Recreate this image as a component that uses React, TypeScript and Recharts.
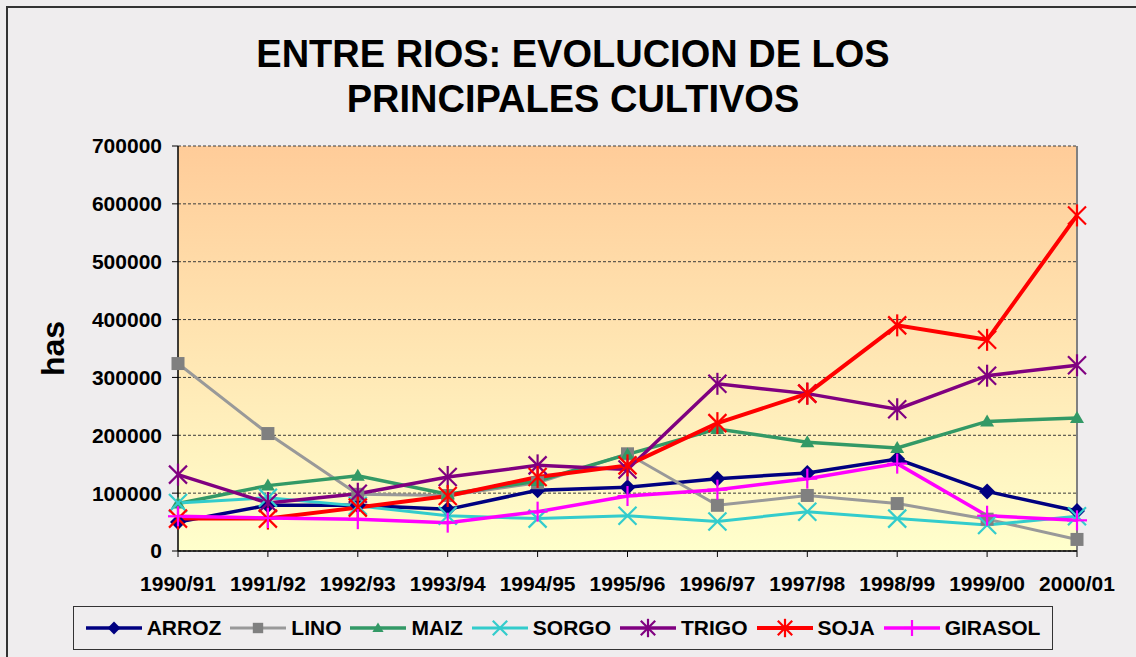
import React from "react"
import { CartesianGrid, Legend, Line, LineChart, ReferenceLine, XAxis, YAxis } from "recharts"

const FONT = "'Liberation Sans', Arial, sans-serif"

const years = ["1990/91", "1991/92", "1992/93", "1993/94", "1994/95", "1995/96", "1996/97", "1997/98", "1998/99", "1999/00", "2000/01"]

const arroz = [50000, 79000, 79000, 72000, 105000, 110000, 125000, 135000, 159000, 103000, 69000]
const lino = [324000, 203000, 98000, 96000, 118000, 168000, 79000, 96000, 82000, 55000, 20000]
const maiz = [82000, 113000, 130000, 98000, 121000, 167000, 211000, 188000, 178000, 224000, 230000]
const sorgo = [83000, 92000, 78000, 61000, 56000, 61000, 51000, 68000, 56000, 45000, 60000]
const trigo = [132000, 83000, 99000, 128000, 148000, 141000, 289000, 272000, 245000, 303000, 321000]
const soja = [56000, 56000, 75000, 95000, 128000, 148000, 221000, 272000, 390000, 365000, 580000]
const girasol = [60000, 57000, 55000, 49000, 68000, 95000, 106000, 125000, 151000, 61000, 53000]

const yTicks = [0, 100000, 200000, 300000, 400000, 500000, 600000, 700000]

type MarkerKind = "diamond" | "square" | "triangle" | "x" | "star" | "plus"

const series = [
  { name: "ARROZ", values: arroz, color: "#000080", markerColor: "#000080", marker: "diamond" as MarkerKind, width: 3.5 },
  { name: "LINO", values: lino, color: "#999999", markerColor: "#808080", marker: "square" as MarkerKind, width: 3 },
  { name: "MAIZ", values: maiz, color: "#339966", markerColor: "#339966", marker: "triangle" as MarkerKind, width: 3.5 },
  { name: "SORGO", values: sorgo, color: "#33CCCC", markerColor: "#33CCCC", marker: "x" as MarkerKind, width: 3 },
  { name: "TRIGO", values: trigo, color: "#800080", markerColor: "#800080", marker: "star" as MarkerKind, width: 3.5 },
  { name: "SOJA", values: soja, color: "#FF0000", markerColor: "#FF0000", marker: "star" as MarkerKind, width: 4 },
  { name: "GIRASOL", values: girasol, color: "#FF00FF", markerColor: "#FF00FF", marker: "plus" as MarkerKind, width: 3.5 },
]

const rows = years.map((year, i) => {
  const row: Record<string, string | number> = { year }
  series.forEach((s) => {
    row[s.name] = s.values[i]
  })
  return row
})

function Marker({ kind, cx, cy, color, s = 1 }: { kind: MarkerKind; cx: number; cy: number; color: string; s?: number }) {
  if (cx == null || cy == null) return null
  switch (kind) {
    case "diamond": {
      const r = 8 * s
      return <polygon points={`${cx},${cy - r} ${cx + r},${cy} ${cx},${cy + r} ${cx - r},${cy}`} fill={color} />
    }
    case "square": {
      const h = 6.5 * s
      return <rect x={cx - h} y={cy - h} width={h * 2} height={h * 2} fill={color} />
    }
    case "triangle": {
      const w = 7 * s
      return <polygon points={`${cx},${cy - 7 * s} ${cx + w},${cy + 5 * s} ${cx - w},${cy + 5 * s}`} fill={color} />
    }
    case "x": {
      const r = 9 * s
      return (
        <g stroke={color} strokeWidth={2.2}>
          <line x1={cx - r} y1={cy - r} x2={cx + r} y2={cy + r} />
          <line x1={cx - r} y1={cy + r} x2={cx + r} y2={cy - r} />
        </g>
      )
    }
    case "star": {
      const r = 9 * s
      return (
        <g stroke={color} strokeWidth={2.2}>
          <line x1={cx - r} y1={cy - r} x2={cx + r} y2={cy + r} />
          <line x1={cx - r} y1={cy + r} x2={cx + r} y2={cy - r} />
          <line x1={cx} y1={cy - r - 2} x2={cx} y2={cy + r + 2} />
        </g>
      )
    }
    default: {
      const r = 10 * s
      return (
        <g stroke={color} strokeWidth={2.2}>
          <line x1={cx - r} y1={cy} x2={cx + r} y2={cy} />
          <line x1={cx} y1={cy - r} x2={cx} y2={cy + r} />
        </g>
      )
    }
  }
}

function LegendBox() {
  return (
    <div
      style={{
        boxSizing: "border-box",
        height: 44,
        border: "1.5px solid #333",
        display: "flex",
        alignItems: "center",
        justifyContent: "center",
        gap: 9,
        fontFamily: FONT,
        fontWeight: 700,
        fontSize: 21,
        color: "#000",
      }}
    >
      {series.map((s) => (
        <div key={s.name} style={{ display: "flex", alignItems: "center" }}>
          <svg width={56} height={24} style={{ display: "block" }}>
            <line x1={0} y1={12} x2={56} y2={12} stroke={s.color} strokeWidth={s.width} />
            <Marker kind={s.marker} cx={28} cy={12} color={s.markerColor} s={0.8} />
          </svg>
          <span style={{ marginLeft: 5 }}>{s.name}</span>
        </div>
      ))}
    </div>
  )
}

export default function App() {
  const tickStyle = { fill: "#000", fontSize: 21, fontWeight: 700, fontFamily: FONT }
  return (
    <div style={{ position: "absolute", left: 0, top: 0, width: 1136, height: 657, background: "#EFEDEE", overflow: "hidden" }}>
      <div style={{ position: "absolute", left: 6, top: 6, width: 1200, height: 700, border: "2px solid #333" }} />
      <div
        style={{
          position: "absolute",
          left: 0,
          top: 32,
          width: 1146,
          textAlign: "center",
          fontFamily: FONT,
          fontWeight: 700,
          fontSize: 38,
          lineHeight: "45px",
          color: "#000",
        }}
      >
        ENTRE RIOS: EVOLUCION DE LOS
        <br />
        PRINCIPALES CULTIVOS
      </div>
      <div style={{ position: "absolute", left: 0, top: 0 }}>
        <LineChart width={1136} height={657} data={rows} margin={{ top: 146, right: 59, bottom: 7, left: 0 }}>
          <defs>
            <linearGradient id="plotBg" x1="0" y1="0" x2="0" y2="1">
              <stop offset="0%" stopColor="#FFCC99" />
              <stop offset="100%" stopColor="#FFFFCC" />
            </linearGradient>
          </defs>
          <CartesianGrid vertical={false} stroke="#3a3a3a" strokeDasharray="3 2" fill="url(#plotBg)" fillOpacity={1} />
          <XAxis
            dataKey="year"
            height={55}
            interval={0}
            tickSize={6}
            tickMargin={19}
            axisLine={{ stroke: "#000", strokeWidth: 1.5 }}
            tickLine={{ stroke: "#000" }}
            tick={tickStyle}
          />
          <YAxis
            domain={[0, 700000]}
            ticks={yTicks}
            width={178}
            tickSize={6}
            tickMargin={10}
            axisLine={{ stroke: "#000", strokeWidth: 1.5 }}
            tickLine={{ stroke: "#000" }}
            tick={tickStyle}
            label={({ viewBox }: any) => (
              <text
                x={53}
                y={viewBox.y + viewBox.height / 2}
                transform={`rotate(-90, 53, ${viewBox.y + viewBox.height / 2})`}
                textAnchor="middle"
                dominantBaseline="central"
                fontFamily={FONT}
                fontWeight={700}
                fontSize={32}
                fill="#000"
              >
                has
              </text>
            )}
          />
          <ReferenceLine x={years[years.length - 1]} stroke="#808080" strokeWidth={2} />
          <Legend verticalAlign="bottom" content={() => <LegendBox />} wrapperStyle={{ left: 73, width: 980, bottom: 7 }} />
          {series.map((s) => (
            <Line
              key={s.name}
              dataKey={s.name}
              name={s.name}
              stroke={s.color}
              strokeWidth={s.width}
              isAnimationActive={false}
              dot={(p: any) => <Marker key={`${s.name}-${p.index}`} kind={s.marker} cx={p.cx} cy={p.cy} color={s.markerColor} />}
              activeDot={false}
            />
          ))}
        </LineChart>
      </div>
    </div>
  )
}
